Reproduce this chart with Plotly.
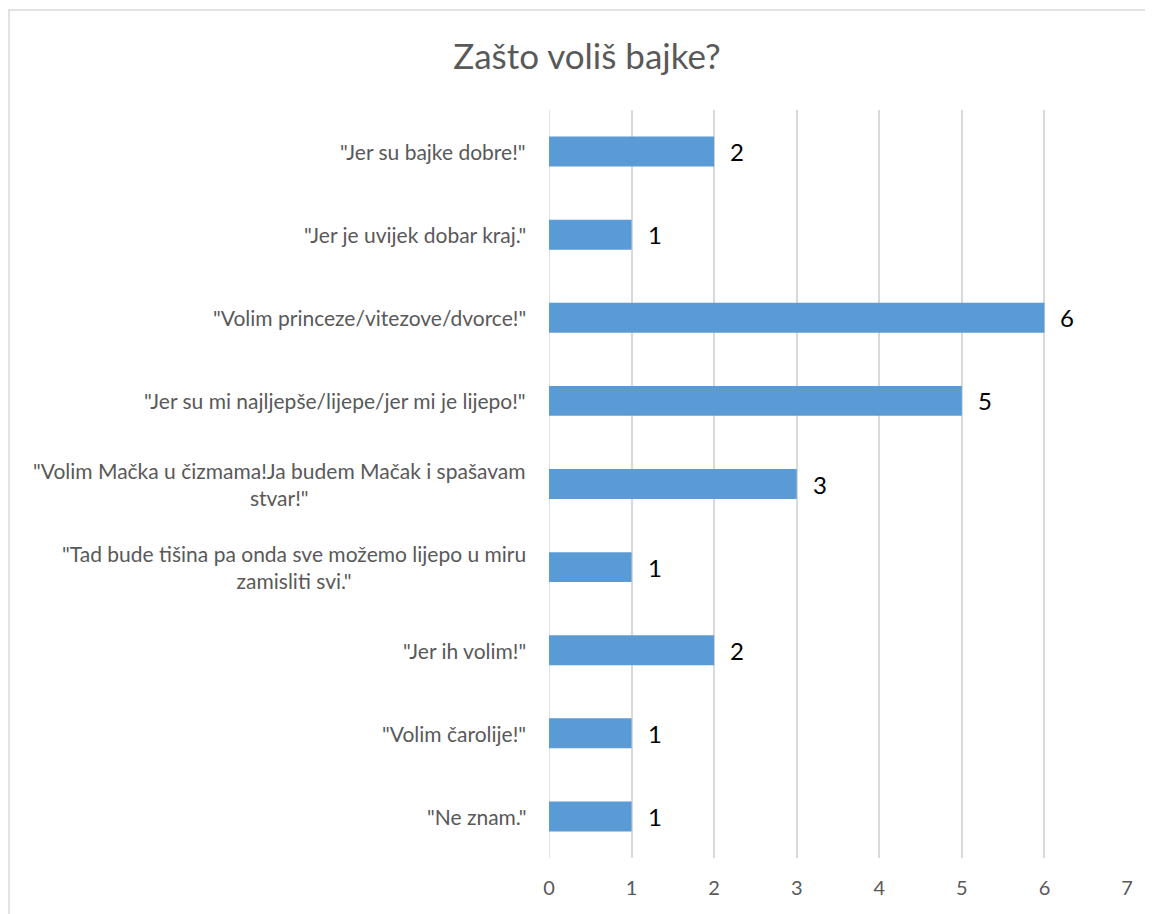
import plotly.graph_objects as go

# --- Data (top to bottom as in the chart) ---
categories = [
    '"Jer su bajke dobre!"',
    '"Jer je uvijek dobar kraj."',
    '"Volim princeze/vitezove/dvorce!"',
    '"Jer su mi najljepše/lijepe/jer mi je lijepo!"',
    '"Volim Mačka u čizmama!Ja budem Mačak i spašavam<br>stvar!"',
    '"Tad bude tišina pa onda sve možemo lijepo u miru<br>zamisliti svi."',
    '"Jer ih volim!"',
    '"Volim čarolije!"',
    '"Ne znam."',
]
values = [2, 1, 6, 5, 3, 1, 2, 1, 1]
x_ticks = [0, 1, 2, 3, 4, 5, 6, 7]

BAR_BLUE = "#5B9BD5"
TEXT_GRAY = "#595959"
GRID_GRAY = "#D9D9D9"
FONT = "Lato, 'Open Sans', sans-serif"

# page body has an 8px margin, so the figure is shifted by 8px
OFF = 8
W, H = 1153 - OFF, 914 - OFF
L, R, T, B = 549 - OFF, 26, 110 - OFF, 56
PW, PH = W - L - R, H - T - B

ids = list(range(len(categories)))

fig = go.Figure()
fig.add_trace(go.Bar(
    x=values, y=ids, orientation="h",
    marker=dict(color=BAR_BLUE, line=dict(width=0)),
    width=0.36, hoverinfo="x",
))

# category labels (centre-aligned, like Excel) and value labels
for i, (cat, v) in enumerate(zip(categories, values)):
    fig.add_annotation(x=0, y=i, xref="x", yref="y", text=cat,
                       xanchor="right", yanchor="middle", align="center",
                       xshift=-21, showarrow=False,
                       font=dict(family=FONT, size=21, color=TEXT_GRAY))
    fig.add_annotation(x=v, y=i, xref="x", yref="y", text=str(v),
                       xanchor="left", yanchor="middle", xshift=14,
                       showarrow=False,
                       font=dict(family=FONT, size=24, color="#000000"))

# chart-area border (Excel style)
fig.add_shape(type="rect", xref="paper", yref="paper",
              x0=(1 - L) / PW, x1=(W + 20 - L) / PW,
              y0=1 - (H + 20 - T) / PH, y1=1 + (T - 2) / PH,
              line=dict(color=GRID_GRAY, width=1.5), fillcolor="rgba(0,0,0,0)",
              layer="below")
# gridline at the left edge of the value axis
fig.add_shape(type="line", xref="x", yref="paper", x0=0, x1=0, y0=0, y1=1,
              line=dict(color=GRID_GRAY, width=1.5), layer="below")

fig.update_layout(
    width=W, height=H,
    margin=dict(l=L, r=R, t=T, b=B),
    paper_bgcolor="white", plot_bgcolor="white",
    showlegend=False,
    title=dict(text="Zašto voliš bajke?", x=(587 - OFF) / W, xanchor="center",
               xref="container", yref="container", y=1 - (57 - OFF) / H,
               yanchor="middle",
               font=dict(family=FONT, size=35, color=TEXT_GRAY)),
    xaxis=dict(range=[0, 7], tickvals=x_ticks, showgrid=True,
               gridcolor=GRID_GRAY, gridwidth=1.5, zeroline=False,
               showline=False, ticks="", ticklabelstandoff=16,
               tickfont=dict(family=FONT, size=20, color=TEXT_GRAY)),
    yaxis=dict(range=[len(categories) - 0.5, -0.5], showticklabels=False,
               showgrid=False, zeroline=False, showline=False, ticks=""),
)

fig.write_html("out.html")
